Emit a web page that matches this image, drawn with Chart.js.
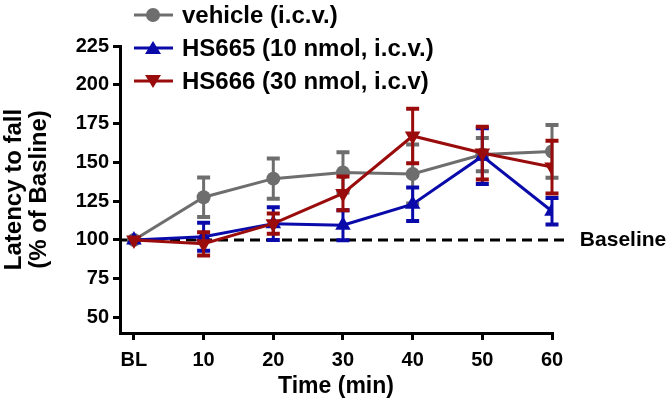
<!DOCTYPE html>
<html>
<head>
<meta charset="utf-8">
<script src="https://cdn.jsdelivr.net/npm/chart.js@4"></script>
<style>
  html, body { margin: 0; padding: 0; background: #fff; }
  #wrap { position: relative; width: 669px; height: 404px; overflow: hidden; }
  #legend { position: absolute; left: 134px; top: -2px; font-family: 'Liberation Sans', Arial, sans-serif; font-weight: bold; font-size: 24px; color: #000; }
  .row { display: flex; align-items: center; height: 33px; white-space: nowrap; }
  .row svg { margin-right: 9px; }
</style>
</head>
<body>
<div id="wrap">
  <canvas id="c" width="669" height="404"></canvas>
  <div id="legend"></div>
</div>
<script>
// ---- data ----
const categories = ['BL', '10', '20', '30', '40', '50', '60'];
const timePoints = [0, 10, 20, 30, 40, 50, 60];
const seriesNames = ['vehicle (i.c.v.)', 'HS665 (10 nmol, i.c.v.)', 'HS666 (30 nmol, i.c.v)'];

const vehicleMean = [100, 127.5, 139.5, 143.5, 142.5, 155, 157];
const vehicleSem  = [0, 12.7, 13, 13, 19, 10.7, 17];

const hs665Mean = [100, 102, 110.5, 109.5, 123, 154, 118.5];
const hs665Sem  = [0, 9, 10.5, 9.7, 10.8, 18, 8.6];

const hs666Mean = [100, 97.5, 110.5, 130, 167, 156, 147];
const hs666Sem  = [0, 7.5, 6.5, 10.8, 17.5, 17, 17];

const yTicks = [50, 75, 100, 125, 150, 175, 200, 225];
const baselineValue = 100;
const baselineLabel = 'Baseline';
const xTitle = 'Time (min)';
const yTitle = ['Latency to fall', '(% of Basline)'];

// ---- styles ----
const colors = ['#6e6e6e', '#0a0aaa', '#9a0c0c'];
const pointStyles = ['circle', 'triangle', 'triangle'];
const pointRotations = [0, 0, 180];
const pointRadii = [7, 9, 9];
const FONT = "'Liberation Sans', Arial, sans-serif";

function toXY(vals) { return vals.map((v, i) => ({ x: timePoints[i], y: v })); }

const means = [vehicleMean, hs665Mean, hs666Mean];
const sems = [vehicleSem, hs665Sem, hs666Sem];

const datasets = seriesNames.map((name, k) => ({
  label: name,
  data: toXY(means[k]),
  sem: sems[k],
  borderColor: colors[k],
  backgroundColor: colors[k],
  borderWidth: 3,
  pointStyle: pointStyles[k],
  pointRotation: pointRotations[k],
  pointRadius: pointRadii[k],
  pointBorderWidth: 0,
  tension: 0,
  order: 2 - k
}));

const errorBars = {
  id: 'errorBars',
  beforeDatasetDraw(chart, args) {
    const ds = chart.data.datasets[args.index];
    if (!ds.sem) return;
    const ys = chart.scales.y;
    const ctx = chart.ctx;
    ctx.save();
    ctx.strokeStyle = ds.borderColor;
    ctx.lineCap = 'butt';
    args.meta.data.forEach((pt, i) => {
      const s = ds.sem[i];
      if (!s) return;
      const m = ds.data[i].y;
      const yt = ys.getPixelForValue(m + s);
      const yb = ys.getPixelForValue(m - s);
      ctx.lineWidth = 3;
      ctx.beginPath();
      ctx.moveTo(pt.x, yt); ctx.lineTo(pt.x, yb);
      ctx.stroke();
      ctx.lineWidth = 4;
      ctx.beginPath();
      ctx.moveTo(pt.x - 6.5, yt); ctx.lineTo(pt.x + 6.5, yt);
      ctx.moveTo(pt.x - 6.5, yb); ctx.lineTo(pt.x + 6.5, yb);
      ctx.stroke();
    });
    ctx.restore();
  }
};

const baselinePlugin = {
  id: 'baseline',
  beforeDatasetsDraw(chart) {
    const xs = chart.scales.x, ys = chart.scales.y, ctx = chart.ctx;
    const y = ys.getPixelForValue(baselineValue);
    ctx.save();
    ctx.strokeStyle = '#000';
    ctx.lineWidth = 3;
    ctx.setLineDash([10, 6]);
    ctx.beginPath();
    ctx.moveTo(chart.chartArea.left + 2, y);
    ctx.lineTo(xs.getPixelForValue(62), y);
    ctx.stroke();
    ctx.restore();
  },
  afterDraw(chart) {
    const xs = chart.scales.x, ys = chart.scales.y, ctx = chart.ctx;
    const y = ys.getPixelForValue(baselineValue);
    ctx.save();
    ctx.fillStyle = '#000';
    ctx.font = 'bold 21px ' + FONT;
    ctx.textBaseline = 'middle';
    ctx.textAlign = 'left';
    ctx.fillText(baselineLabel, xs.getPixelForValue(64), y);
    ctx.restore();
  }
};

new Chart(document.getElementById('c'), {
  type: 'line',
  data: { datasets },
  plugins: [errorBars, baselinePlugin],
  options: {
    responsive: false,
    animation: false,
    layout: { padding: { left: 0, top: 46, right: 117, bottom: 0 } },
    plugins: { legend: { display: false }, tooltip: { enabled: false } },
    scales: {
      x: {
        type: 'linear',
        min: -2, max: 60,
        afterBuildTicks(scale) { scale.ticks = timePoints.map(v => ({ value: v })); },
        afterFit(scale) { scale.height = 71; },
        ticks: {
          callback: (v) => categories[timePoints.indexOf(v)],
          color: '#000',
          font: { family: FONT, size: 20, weight: 'bold' },
          padding: 8,
          maxRotation: 0
        },
        grid: { display: true, drawOnChartArea: false, drawTicks: true, tickLength: 7, color: '#000', lineWidth: 3 },
        border: { display: true, color: '#000', width: 3 },
        title: { display: true, text: xTitle, color: '#000', font: { family: FONT, size: 23, weight: 'bold', lineHeight: 1.1 }, padding: { top: 0, bottom: 5 } }
      },
      y: {
        min: 40, max: 225,
        afterBuildTicks(scale) { scale.ticks = yTicks.map(v => ({ value: v })); },
        afterFit(scale) { scale.width = 120; },
        ticks: {
          color: '#000',
          font: { family: FONT, size: 20, weight: 'bold' },
          padding: 4
        },
        grid: { display: true, drawOnChartArea: false, drawTicks: true, tickLength: 7, color: '#000', lineWidth: 3 },
        border: { display: true, color: '#000', width: 3 },
        title: { display: true, text: yTitle, color: '#000', font: { family: FONT, size: 24, weight: 'bold', lineHeight: 1.05 }, padding: { top: 2, bottom: 0 } }
      }
    }
  }
});

// ---- HTML legend ----
const legend = document.getElementById('legend');
seriesNames.forEach((name, k) => {
  const row = document.createElement('div');
  row.className = 'row';
  let marker;
  if (pointStyles[k] === 'circle') {
    marker = `<circle cx="19" cy="12" r="7" fill="${colors[k]}"/>`;
  } else if (pointRotations[k] === 180) {
    marker = `<polygon points="11,6 27,6 19,19" fill="${colors[k]}"/>`;
  } else {
    marker = `<polygon points="11,18 27,18 19,5" fill="${colors[k]}"/>`;
  }
  row.innerHTML = `<svg width="39" height="24" viewBox="0 0 39 24"><line x1="0" y1="12" x2="39" y2="12" stroke="${colors[k]}" stroke-width="3"/>${marker}</svg><span>${name}</span>`;
  legend.appendChild(row);
});
</script>
</body>
</html>
